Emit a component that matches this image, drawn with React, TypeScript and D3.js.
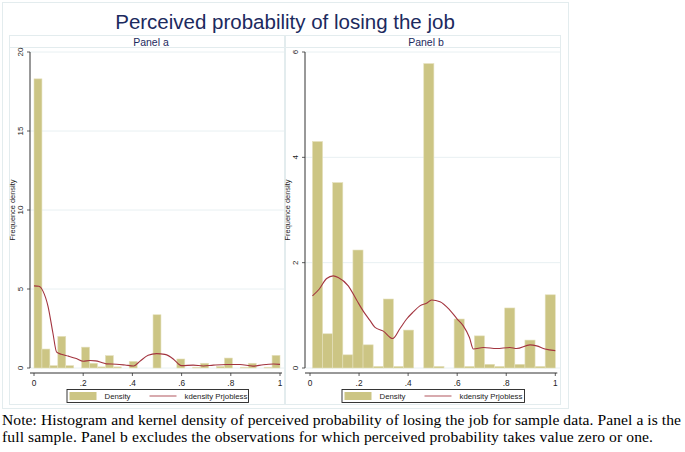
import React from "react";
import * as d3 from "d3";

// ---------- data ----------
const titleText = "Perceived probability of losing the job";
const panelTitles = ["Panel a", "Panel b"];
const yLabel = "Frequence density";
const legendLabels = ["Density", "kdensity Prjobless"];
const noteLines = [
  "Note: Histogram and kernel density of perceived probability of losing the job for sample data. Panel a is the",
  "full sample. Panel b excludes the observations for which perceived probability takes value zero or one.",
];

// Panel a: 31 bins from 0 to 1
const binsA = { start: 0, end: 1 };
const densityA = [
  18.3, 1.2, 0.15, 2.0, 0.15, 0, 1.32, 0.3, 0.07, 0.78, 0.07, 0, 0.42, 0, 0, 3.37,
  0, 0, 0.57, 0, 0.05, 0.3, 0, 0.1, 0.63, 0, 0.05, 0.3, 0, 0.05, 0.8,
];
const kdensA: [number, number][] = [
  [0, 5.2], [0.02, 5.17], [0.037, 4.85], [0.057, 3.9], [0.077, 2.2], [0.092, 1.0],
  [0.111, 0.87], [0.14, 0.75], [0.172, 0.6], [0.2, 0.43], [0.227, 0.47], [0.25, 0.45],
  [0.275, 0.35], [0.294, 0.26], [0.335, 0.24], [0.37, 0.19], [0.405, 0.13], [0.43, 0.42],
  [0.464, 0.8], [0.498, 0.91], [0.532, 0.86], [0.566, 0.57], [0.586, 0.27], [0.6, 0.15],
  [0.647, 0.18], [0.688, 0.13], [0.729, 0.18], [0.783, 0.22], [0.837, 0.22], [0.89, 0.12],
  [0.932, 0.21], [0.973, 0.25], [1.0, 0.23],
];
const yTicksA = [0, 5, 10, 15, 20];

// Panel b: 24 bins from 0.01 to 1
const binsB = { start: 0.01, end: 1 };
const densityB = [
  4.3, 0.65, 3.52, 0.25, 2.24, 0.44, 0.03, 1.31, 0.03, 0.72, 0, 5.78, 0.03, 0, 0.93,
  0.03, 0.61, 0.07, 0.03, 1.14, 0.07, 0.53, 0.03, 1.39,
];
const kdensB: [number, number][] = [
  [0.01, 1.37], [0.038, 1.5], [0.068, 1.7], [0.095, 1.75], [0.115, 1.72], [0.156, 1.56],
  [0.19, 1.29], [0.217, 1.08], [0.245, 0.9], [0.265, 0.77], [0.299, 0.7], [0.337, 0.56],
  [0.367, 0.75], [0.394, 0.93], [0.42, 1.06], [0.448, 1.18], [0.475, 1.23], [0.496, 1.29],
  [0.53, 1.26], [0.57, 1.1], [0.6, 0.93], [0.625, 0.8], [0.65, 0.58], [0.666, 0.36],
  [0.707, 0.39], [0.761, 0.37], [0.815, 0.39], [0.842, 0.37], [0.897, 0.44], [0.924, 0.42],
  [0.958, 0.36], [1.0, 0.33],
];
const yTicksB = [0, 2, 4, 6];

const xTicks = [0, 0.2, 0.4, 0.6, 0.8, 1];
const xTickLabels = ["0", ".2", ".4", ".6", ".8", "1"];

// ---------- styles ----------
const FONT = "'Liberation Sans', Arial, sans-serif";
const SERIF = "'Liberation Serif', 'Times New Roman', serif";
const BAR_FILL = "#CCC584";
const BAR_STROKE = "#E4E0BC";
const LINE = "#A3343F";
const FRAME = "#E3ECEE";
const GRID = "#E8F0F2";
const NAVY = "#1C2A5E";

type PanelProps = {
  frameX0: number;
  frameX1: number;
  axisX: number;
  x0: number;
  x1: number;
  title: string;
  density: number[];
  bins: { start: number; end: number };
  kd: [number, number][];
  yTicks: number[];
  yMax: number;
  legendX0: number;
  legendX1: number;
};

function Panel(p: PanelProps) {
  const yTop = 52;
  const yBottom = 368;
  const xAxisY = 373;
  const x = d3.scaleLinear().domain([0, 1]).range([p.x0, p.x1]);
  const y = d3.scaleLinear().domain([0, p.yMax]).range([yBottom, yTop]);
  const n = p.density.length;
  const w = (p.bins.end - p.bins.start) / n;
  const line = d3
    .line<[number, number]>()
    .x((d) => x(d[0]))
    .y((d) => y(d[1]))
    .curve(d3.curveMonotoneX);
  const labelX = p.axisX - 15.5;
  const tickLabelX = p.axisX - 7.5;
  const lg = p.legendX0;
  const lw = p.legendX1 - p.legendX0;
  return (
    <g>
      {/* panel frame */}
      <rect x={p.frameX0 + 0.5} y={35.5} width={p.frameX1 - p.frameX0} height={369} fill="none" stroke={FRAME} />
      <rect x={p.frameX0 + 0.5} y={35.5} width={p.frameX1 - p.frameX0} height={12} fill="none" stroke={FRAME} />
      <text x={(p.frameX0 + p.frameX1) / 2 + 4} y={45.5} fontSize={10.5} fill={NAVY} textAnchor="middle" fontFamily={FONT}>
        {p.title}
      </text>
      {/* grid */}
      {p.yTicks.map((t) => (
        <line key={"g" + t} x1={p.axisX} x2={p.frameX1} y1={y(t)} y2={y(t)} stroke={GRID} strokeWidth={1} />
      ))}
      {/* bars */}
      {p.density.map((v, i) => (
        <rect
          key={"b" + i}
          x={x(p.bins.start + i * w)}
          y={y(v)}
          width={x(p.bins.start + (i + 1) * w) - x(p.bins.start + i * w)}
          height={yBottom - y(v)}
          fill={BAR_FILL}
          stroke={BAR_STROKE}
          strokeWidth={0.6}
        />
      ))}
      {/* kdensity */}
      <path d={line(p.kd) || ""} fill="none" stroke={LINE} strokeWidth={1.1} />
      {/* y axis */}
      <line x1={p.axisX} x2={p.axisX} y1={yTop} y2={yBottom} stroke="#333" strokeWidth={1} />
      {p.yTicks.map((t) => (
        <g key={"yt" + t}>
          <line x1={p.axisX - 3} x2={p.axisX} y1={y(t)} y2={y(t)} stroke="#333" strokeWidth={0.8} />
          <text
            transform={`translate(${tickLabelX},${y(t)}) rotate(-90)`}
            fontSize={8}
            textAnchor="middle"
            fill="#222"
            fontFamily={FONT}
          >
            {String(t)}
          </text>
        </g>
      ))}
      <text
        transform={`translate(${labelX},${(yTop + yBottom) / 2}) rotate(-90)`}
        fontSize={7.4}
        textAnchor="middle"
        fill="#222"
        fontFamily={FONT}
      >
        {yLabel}
      </text>
      {/* x axis */}
      <line x1={p.axisX} x2={p.x1 + 2} y1={xAxisY} y2={xAxisY} stroke="#333" strokeWidth={1} />
      {xTicks.map((t, i) => (
        <g key={"xt" + t}>
          <line x1={x(t)} x2={x(t)} y1={xAxisY} y2={xAxisY + 3} stroke="#333" strokeWidth={0.8} />
          <text x={x(t)} y={385.5} fontSize={8.3} textAnchor="middle" fill="#222" fontFamily={FONT}>
            {xTickLabels[i]}
          </text>
        </g>
      ))}
      {/* legend */}
      <rect x={lg + 0.5} y={389.5} width={lw} height={13} fill="white" stroke="#222" strokeWidth={0.9} />
      <rect x={lg + 3} y={392} width={27} height={8} fill={BAR_FILL} />
      <text x={lg + 38} y={399.3} fontSize={7.8} fill="#222" fontFamily={FONT}>
        {legendLabels[0]}
      </text>
      <line x1={lg + 83} x2={lg + 110} y1={396} y2={396} stroke={LINE} strokeOpacity={0.7} strokeWidth={1.2} />
      <text x={lg + 118} y={399.3} fontSize={7.8} fill="#222" fontFamily={FONT}>
        {legendLabels[1]}
      </text>
    </g>
  );
}

export default function App() {
  return (
    <div style={{ position: "fixed", left: 0, top: 0 }}>
      <svg width={685} height={452} style={{ display: "block", background: "white" }}>
        <rect x={0} y={0} width={685} height={452} fill="white" />
        <rect x={2.5} y={2.5} width={566} height={406} fill="none" stroke={FRAME} />
        <text x={285} y={28.5} fontSize={20.5} fill={NAVY} textAnchor="middle" fontFamily={FONT}>
          {titleText}
        </text>
        <Panel
          frameX0={9}
          frameX1={285}
          axisX={30}
          x0={34}
          x1={280}
          title={panelTitles[0]}
          density={densityA}
          bins={binsA}
          kd={kdensA}
          yTicks={yTicksA}
          yMax={20}
          legendX0={66.5}
          legendX1={248}
        />
        <Panel
          frameX0={284}
          frameX1={560}
          axisX={305}
          x0={310}
          x1={555.3}
          title={panelTitles[1]}
          density={densityB}
          bins={binsB}
          kd={kdensB}
          yTicks={yTicksB}
          yMax={6}
          legendX0={341.5}
          legendX1={524}
        />
        <text x={2} y={425} fontSize={15.6} fill="#000" fontFamily={SERIF} textLength={679} lengthAdjust="spacing">
          {noteLines[0]}
        </text>
        <text x={2} y={442} fontSize={15.6} fill="#000" fontFamily={SERIF} textLength={651} lengthAdjust="spacing">
          {noteLines[1]}
        </text>
      </svg>
    </div>
  );
}
